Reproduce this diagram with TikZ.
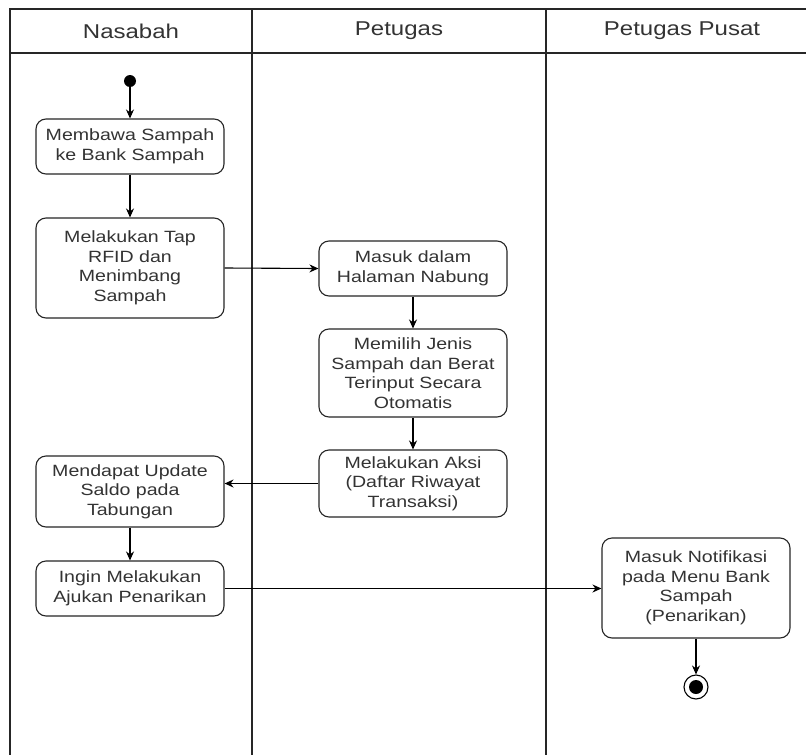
\documentclass[tikz,border=0pt]{standalone}
\usepackage{fontspec}
\setmainfont[FakeStretch=1.2]{Liberation Sans}
\usetikzlibrary{arrows.meta}
\definecolor{txtgray}{HTML}{333333}
\begin{document}
\begin{tikzpicture}[x=1pt,y=-1pt,
  lane/.style={line width=1.2pt,draw=black!85},
  act/.style={draw=black!85,line width=1.1pt,rounded corners=10pt,fill=white,
    minimum width=188pt,text width=180pt,align=center,inner sep=0pt,
    font=\fontsize{16.3}{19.5}\selectfont,text=txtgray},
  hdr/.style={font=\fontsize{20}{24}\selectfont,text=txtgray},
  flow/.style={line width=1.1pt,-{Stealth[length=9pt,width=8pt]}},
  plain/.style={line width=1.1pt}]
\useasboundingbox (0,0) rectangle (806,755);
\fill[white] (0,0) rectangle (806,755);
% swimlanes
\draw[lane] (806,9) -- (10,9) -- (10,755);
\draw[lane] (10,53) -- (806,53);
\draw[lane] (252,9) -- (252,755);
\draw[lane] (546,9) -- (546,755);
\node[hdr] (h1) at (131,31) {Nasabah};
\node[hdr] (h2) at (399,31) {Petugas};
\node[hdr] (h3) at (682,31) {Petugas Pusat};
% start
\node[circle,fill=black,minimum size=12pt,inner sep=0pt] (start) at (130,81) {};
% activities
\node[act,minimum height=55pt] (b1) at (130,146.5) {Membawa Sampah\\ke Bank Sampah};
\node[act,minimum height=100pt] (b2) at (130,268) {Melakukan Tap\\RFID dan\\Menimbang\\Sampah};
\node[act,minimum height=55pt] (b3) at (413,268.5) {Masuk dalam\\Halaman Nabung};
\node[act,minimum height=88pt] (b4) at (413,373) {Memilih Jenis\\Sampah dan Berat\\Terinput Secara\\Otomatis};
\node[act,minimum height=67pt] (b5) at (413,483.5) {Melakukan Aksi\\(Daftar Riwayat\\Transaksi)};
\node[act,minimum height=71pt] (b6) at (130,491.5) {Mendapat Update\\Saldo pada\\Tabungan};
\node[act,minimum height=55pt] (b7) at (130,588.5) {Ingin Melakukan\\Ajukan Penarikan};
\node[act,minimum height=100pt] (b8) at (696,588) {Masuk Notifikasi\\pada Menu Bank\\Sampah\\(Penarikan)};
% end
\node[circle,draw=black,line width=1.1pt,fill=white,minimum size=24pt,inner sep=0pt] (end) at (696,687) {};
\node[circle,fill=black,minimum size=14pt,inner sep=0pt] (endin) at (end.center) {};
% flows
\draw[flow] (start) -- (b1);
\draw[flow] (b1) -- (b2);
\draw[flow] (b2.east) -- (b3.west);
\draw[flow] (b3) -- (b4);
\draw[flow] (b4) -- (b5);
\draw[flow] (b5.west) -- (b5.west -| b6.east);
\draw[flow] (b6) -- (b7);
\draw[flow] (b7.east) -- (b7.east -| b8.west);
\draw[flow] (b8) -- (end);
\end{tikzpicture}
\end{document}
